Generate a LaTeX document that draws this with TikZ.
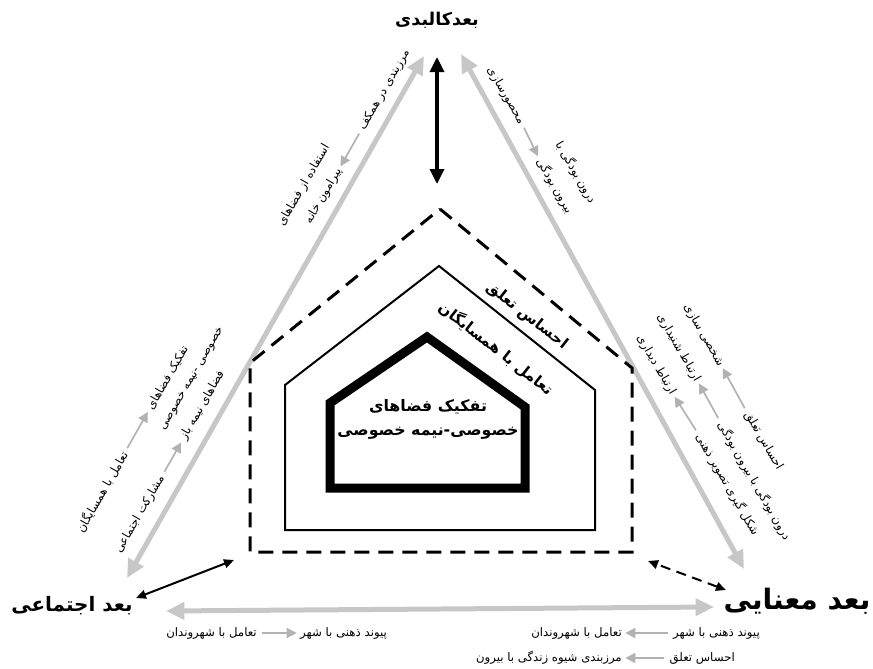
\documentclass[tikz,border=0pt]{standalone}
\usepackage{fontspec}
\newfontfamily\farsi[Script=Arabic]{DejaVu Sans}
\TeXXeTstate=1
\usetikzlibrary{arrows.meta}

\begin{document}
\begin{tikzpicture}[x=0.3mm,y=-0.3mm,
  side arrow/.style={draw=black!22,line width=1.5mm,
    {Triangle[length=5.5mm,width=5mm]}-{Triangle[length=5.5mm,width=5mm]}},
  small arrow/.style={draw=black!30,line width=0.5mm,-{Triangle[length=3mm,width=3mm]},
    shorten <=1.5mm,shorten >=1mm},
  link arrow/.style={draw=black,line width=0.6mm,
    {Triangle[length=3mm,width=2.6mm]}-{Triangle[length=3mm,width=2.6mm]}},
  label/.style={font=\farsi\fontsize{10}{12}\selectfont,inner sep=0pt},
  dim/.style={font=\farsi\bfseries\fontsize{#1}{#1}\selectfont,inner sep=0pt},
  house label/.style={font=\farsi\bfseries\fontsize{13}{15}\selectfont,inner sep=0pt,rotate=-38}]

  \useasboundingbox (0,0) rectangle (873,669);

  % the three dimensions
  \node[dim=15] (kalbadi) at (437,20) {\beginR بعدکالبدی\endR};
  \node[dim=17] (ejtemai) at (72,606) {\beginR بعد اجتماعی\endR};
  \node[dim=24] (manai) at (797,601) {\beginR بعد معنایی\endR};

  % gray sides of the triangle
  \coordinate (top l) at (424,56);
  \coordinate (top r) at (461,54);
  \coordinate (left b) at (127,578);
  \coordinate (left r) at (166,611);
  \coordinate (right b) at (744,569);
  \coordinate (right l) at (714,607);
  \draw[side arrow] (top l) -- (left b);
  \draw[side arrow] (top r) -- (right b);
  \draw[side arrow] (left r) -- (right l);

  % houses
  \draw[line width=0.9mm,dash pattern=on 4.5mm off 2.7mm]
    (440,209) -- (632,368) -- (632,552) -- (250,552) -- (250,363) -- cycle;
  \draw[line width=0.6mm]
    (439,266) -- (595,390) -- (595,530) -- (285,530) -- (285,385) -- cycle;
  \draw[line width=2.7mm,line join=miter]
    (427,337) -- (525,407) -- (525,488) -- (330,488) -- (330,403) -- cycle;
  \coordinate (house top) at (437,184);
  \coordinate (house bl) at (234,560);
  \coordinate (house br) at (648,561);

  \node[house label] (taalogh) at (527,316) {\beginR احساس تعلق\endR};
  \node[house label] (hamsaye) at (496,348) {\beginR تعامل با همسایگان\endR};
  \node[dim=13.5] (tafkik) at (428,407) {\beginR تفکیک فضاهای\endR};
  \node[dim=13.5] (khosusi) at (428,433) {\beginR خصوصی-نیمه خصوصی\endR};

  % links to the house
  \draw[line width=1mm,{Triangle[length=4.5mm,width=4.2mm]}-{Triangle[length=4.5mm,width=4.2mm]}]
    (kalbadi.south |- 0,57) -- (house top);
  \draw[link arrow] (136,598) -- (house bl);
  \draw[link arrow,dash pattern=on 3mm off 2mm] (726,590) -- (house br);

  % left side, top
  \node[label,rotate=60,anchor=west] (marz) at (361.6,129.3) {\beginR مرزبندی در همکف\endR};
  \node[label,rotate=60,anchor=east] (piramun) at (338.9,169.3) {\beginR پیرامون خانه\endR};
  \node[label,rotate=60,anchor=east] (estefade) at (327.1,145.4) {\beginR استفاده از فضاهای\endR};
  \draw[small arrow] (marz.west) -- (piramun.east);

  % left side, bottom
  \node[label,rotate=60,anchor=east] (taamol) at (124.8,452.5) {\beginR تعامل با همسایگان\endR};
  \node[label,rotate=60,anchor=west] (tafkik2) at (149.5,409.1) {\beginR تفکیک فضاهای\endR};
  \node[label,rotate=60,anchor=west] (khosusi2) at (162.7,430.3) {\beginR خصوصی -نیمه خصوصی\endR};
  \node[label,rotate=60,anchor=east] (mosharekat) at (162.0,476.0) {\beginR مشارکت اجتماعی\endR};
  \node[label,rotate=60,anchor=west] (nimebaz) at (182.8,439.5) {\beginR فضاهای نیمه باز\endR};
  \draw[small arrow] (taamol.east) -- (tafkik2.west);
  \draw[small arrow] (mosharekat.east) -- (nimebaz.west);

  % right side, top
  \node[label,rotate=-60,anchor=east] (mahsur) at (521.8,123.3) {\beginR محصورسازی\endR};
  \node[label,rotate=-60,anchor=west] (birun) at (539.4,159.2) {\beginR بیرون بودگی\endR};
  \node[label,rotate=-60,anchor=west] (darun) at (558.4,142.0) {\beginR درون بودگی با\endR};
  \draw[small arrow] (mahsur.east) -- (birun.west);

  % right side, bottom
  \node[label,rotate=-60,anchor=east] (shakhsi) at (721.1,365.2) {\beginR شخصی سازی\endR};
  \node[label,rotate=-60,anchor=west] (taalogh2) at (747.1,412.5) {\beginR احساس تعلق\endR};
  \node[label,rotate=-60,anchor=east] (shenidari) at (697.4,380.5) {\beginR ارتباط شنیداری\endR};
  \node[label,rotate=-60,anchor=west] (darunbirun) at (720.6,422.5) {\beginR درون بودگی با بیرون بودگی\endR};
  \node[label,rotate=-60,anchor=east] (didari) at (672.9,394.0) {\beginR ارتباط دیداری\endR};
  \node[label,rotate=-60,anchor=west] (tasvir) at (698.7,434.6) {\beginR شکل گیری تصویر ذهنی\endR};
  \draw[small arrow] (taalogh2.west) -- (shakhsi.east);
  \draw[small arrow] (darunbirun.west) -- (shenidari.east);
  \draw[small arrow] (tasvir.west) -- (didari.east);

  % bottom side
  \node[label,anchor=east] (shahrvand) at (257,633) {\beginR تعامل با شهروندان\endR};
  \node[label,anchor=west] (peyvand) at (300,633) {\beginR پیوند ذهنی با شهر\endR};
  \draw[small arrow] (shahrvand.east) -- (peyvand.west);
  \node[label,anchor=east] (peyvand2) at (760,633) {\beginR پیوند ذهنی با شهر\endR};
  \node[label,anchor=east] (shahrvand2) at (622,633) {\beginR تعامل با شهروندان\endR};
  \draw[small arrow] (peyvand2.west) -- (shahrvand2.east);
  \node[label,anchor=east] (taalogh3) at (735,658) {\beginR احساس تعلق\endR};
  \node[label,anchor=east] (sabk) at (622,658) {\beginR مرزبندی شیوه زندگی با بیرون\endR};
  \draw[small arrow] (taalogh3.west) -- (sabk.east);
\end{tikzpicture}
\end{document}
